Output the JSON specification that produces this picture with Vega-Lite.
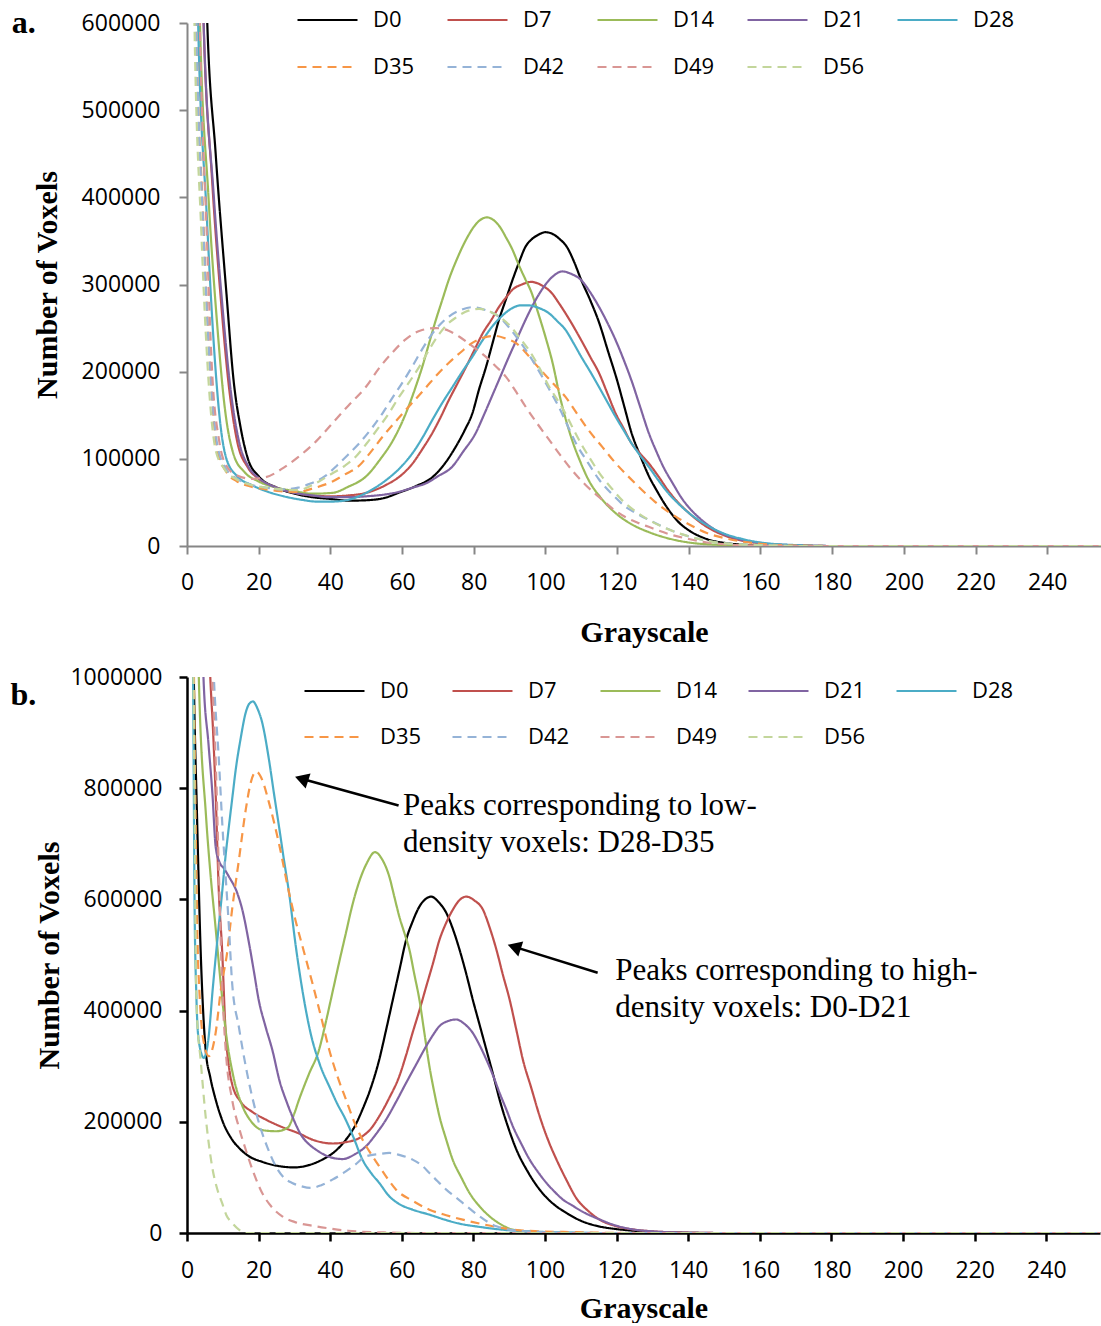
{
"$schema": "https://vega.github.io/schema/vega-lite/v6.json",
"padding": {"left": 10, "top": 5, "right": 0, "bottom": 0},
"spacing": 19,
"config": {
  "view": {"stroke": null},
  "axis": {"grid": false, "labelFont": "Open Sans", "labelFontSize": 23, "labelColor": "#000", "titleFont": "Liberation Serif", "titleFontWeight": "bold", "titleFontSize": 30, "titleColor": "#000", "tickSize": 8, "labelFlush": false, "labelOverlap": false},
  "legend": {"orient": "none", "direction": "horizontal", "columns": 5, "symbolType": "stroke", "symbolSize": 3600, "symbolStrokeWidth": 2.2, "clipHeight": 30, "labelOffset": 14, "labelFont": "Open Sans", "labelFontSize": 22, "labelColor": "#000", "padding": 0}
},
"resolve": {"scale": {"x": "independent", "y": "independent", "color": "independent", "strokeDash": "independent"}, "legend": {"color": "independent", "strokeDash": "independent"}},
"datasets": {
"a": [
{"s":"D0","g":0,"v":2500000},{"s":"D0","g":3,"v":1300000},{"s":"D0","g":5.5,"v":620000},{"s":"D0","g":8,"v":450000},{"s":"D0","g":11,"v":290000},{"s":"D0","g":13,"v":190000},{"s":"D0","g":15,"v":135000},{"s":"D0","g":17,"v":100000},{"s":"D0","g":20,"v":80000},{"s":"D0","g":25,"v":67000},{"s":"D0","g":30,"v":60000},{"s":"D0","g":35,"v":56000},{"s":"D0","g":40,"v":54000},{"s":"D0","g":45,"v":52000},{"s":"D0","g":50,"v":52500},{"s":"D0","g":55,"v":55000},{"s":"D0","g":59,"v":61000},{"s":"D0","g":64,"v":69000},{"s":"D0","g":68.5,"v":79000},{"s":"D0","g":72,"v":95000},{"s":"D0","g":75,"v":114000},{"s":"D0","g":77.5,"v":133000},{"s":"D0","g":79.6,"v":152000},{"s":"D0","g":81.5,"v":180000},{"s":"D0","g":83.4,"v":205000},{"s":"D0","g":85.2,"v":232000},{"s":"D0","g":87,"v":259000},{"s":"D0","g":88.9,"v":282000},{"s":"D0","g":90.8,"v":305000},{"s":"D0","g":92.6,"v":325000},{"s":"D0","g":94.4,"v":343000},{"s":"D0","g":96.2,"v":352000},{"s":"D0","g":98,"v":357000},{"s":"D0","g":100,"v":360000},{"s":"D0","g":102,"v":358000},{"s":"D0","g":104,"v":352000},{"s":"D0","g":106,"v":343000},{"s":"D0","g":108,"v":326000},{"s":"D0","g":110,"v":305000},{"s":"D0","g":112.5,"v":282000},{"s":"D0","g":115,"v":256000},{"s":"D0","g":117.5,"v":223000},{"s":"D0","g":120,"v":190000},{"s":"D0","g":122,"v":160000},{"s":"D0","g":124,"v":130000},{"s":"D0","g":126.5,"v":103000},{"s":"D0","g":129,"v":79000},{"s":"D0","g":131,"v":64000},{"s":"D0","g":133,"v":50000},{"s":"D0","g":135,"v":38000},{"s":"D0","g":137,"v":28000},{"s":"D0","g":140,"v":18000},{"s":"D0","g":145,"v":8000},{"s":"D0","g":150,"v":3500},{"s":"D0","g":155,"v":1500},{"s":"D0","g":160,"v":600},{"s":"D0","g":170,"v":100},{"s":"D0","g":180,"v":0},{"s":"D0","g":255,"v":0},
{"s":"D7","g":0,"v":2500000},{"s":"D7","g":3,"v":1100000},{"s":"D7","g":4.5,"v":620000},{"s":"D7","g":7,"v":420000},{"s":"D7","g":9.5,"v":280000},{"s":"D7","g":11.5,"v":190000},{"s":"D7","g":14,"v":120000},{"s":"D7","g":17,"v":90000},{"s":"D7","g":20,"v":77000},{"s":"D7","g":25,"v":67000},{"s":"D7","g":30,"v":61000},{"s":"D7","g":35,"v":58000},{"s":"D7","g":40,"v":57000},{"s":"D7","g":45,"v":58000},{"s":"D7","g":50,"v":61000},{"s":"D7","g":55.5,"v":70000},{"s":"D7","g":60,"v":82000},{"s":"D7","g":63,"v":95000},{"s":"D7","g":65.8,"v":112000},{"s":"D7","g":68.5,"v":130000},{"s":"D7","g":70.8,"v":148000},{"s":"D7","g":73,"v":167000},{"s":"D7","g":75.4,"v":186000},{"s":"D7","g":77.8,"v":205000},{"s":"D7","g":80.2,"v":225000},{"s":"D7","g":82.5,"v":244000},{"s":"D7","g":85,"v":260000},{"s":"D7","g":87,"v":274000},{"s":"D7","g":89,"v":285000},{"s":"D7","g":90.8,"v":294000},{"s":"D7","g":93.4,"v":300000},{"s":"D7","g":96,"v":303000},{"s":"D7","g":99,"v":299000},{"s":"D7","g":101.8,"v":290000},{"s":"D7","g":103.7,"v":279000},{"s":"D7","g":105.6,"v":267000},{"s":"D7","g":107.8,"v":252000},{"s":"D7","g":110,"v":236000},{"s":"D7","g":112.5,"v":217000},{"s":"D7","g":115,"v":198000},{"s":"D7","g":117.3,"v":175000},{"s":"D7","g":119.6,"v":152000},{"s":"D7","g":121.8,"v":135000},{"s":"D7","g":124,"v":118000},{"s":"D7","g":126.4,"v":106000},{"s":"D7","g":128.8,"v":95000},{"s":"D7","g":131.5,"v":80000},{"s":"D7","g":134,"v":65000},{"s":"D7","g":137,"v":50000},{"s":"D7","g":140,"v":38000},{"s":"D7","g":145,"v":22000},{"s":"D7","g":150,"v":12000},{"s":"D7","g":155,"v":6000},{"s":"D7","g":160,"v":3000},{"s":"D7","g":170,"v":500},{"s":"D7","g":180,"v":0},{"s":"D7","g":255,"v":0},
{"s":"D14","g":0,"v":2500000},{"s":"D14","g":2,"v":1200000},{"s":"D14","g":3.5,"v":620000},{"s":"D14","g":6,"v":400000},{"s":"D14","g":8.5,"v":250000},{"s":"D14","g":10.5,"v":160000},{"s":"D14","g":13,"v":105000},{"s":"D14","g":16,"v":85000},{"s":"D14","g":20,"v":74000},{"s":"D14","g":25,"v":67000},{"s":"D14","g":30,"v":63000},{"s":"D14","g":35,"v":60000},{"s":"D14","g":40.6,"v":61000},{"s":"D14","g":45,"v":68000},{"s":"D14","g":50,"v":80000},{"s":"D14","g":54,"v":100000},{"s":"D14","g":57.3,"v":120000},{"s":"D14","g":60,"v":142000},{"s":"D14","g":62,"v":162000},{"s":"D14","g":64,"v":185000},{"s":"D14","g":65.6,"v":205000},{"s":"D14","g":67.5,"v":232000},{"s":"D14","g":69.4,"v":259000},{"s":"D14","g":71.2,"v":282000},{"s":"D14","g":73,"v":305000},{"s":"D14","g":75.4,"v":330000},{"s":"D14","g":77.8,"v":351000},{"s":"D14","g":80,"v":366000},{"s":"D14","g":81.8,"v":374000},{"s":"D14","g":83.7,"v":377000},{"s":"D14","g":85.5,"v":374000},{"s":"D14","g":87.3,"v":366000},{"s":"D14","g":89,"v":354000},{"s":"D14","g":90.8,"v":340000},{"s":"D14","g":92.6,"v":322000},{"s":"D14","g":94.4,"v":306000},{"s":"D14","g":96,"v":292000},{"s":"D14","g":98,"v":267000},{"s":"D14","g":100,"v":240000},{"s":"D14","g":102,"v":210000},{"s":"D14","g":104,"v":172000},{"s":"D14","g":105.7,"v":145000},{"s":"D14","g":107.4,"v":122000},{"s":"D14","g":109.7,"v":97000},{"s":"D14","g":112,"v":76000},{"s":"D14","g":115.5,"v":55000},{"s":"D14","g":119.5,"v":38000},{"s":"D14","g":124,"v":25000},{"s":"D14","g":128.8,"v":16000},{"s":"D14","g":135,"v":8000},{"s":"D14","g":140,"v":4000},{"s":"D14","g":150,"v":1000},{"s":"D14","g":160,"v":0},{"s":"D14","g":255,"v":0},
{"s":"D21","g":0,"v":2500000},{"s":"D21","g":3,"v":1200000},{"s":"D21","g":4.5,"v":620000},{"s":"D21","g":7.5,"v":400000},{"s":"D21","g":10,"v":270000},{"s":"D21","g":12,"v":185000},{"s":"D21","g":14.5,"v":120000},{"s":"D21","g":17,"v":92000},{"s":"D21","g":20,"v":78000},{"s":"D21","g":25,"v":67000},{"s":"D21","g":30,"v":61000},{"s":"D21","g":35,"v":58000},{"s":"D21","g":40,"v":56000},{"s":"D21","g":45,"v":56000},{"s":"D21","g":50,"v":57000},{"s":"D21","g":55,"v":59000},{"s":"D21","g":59,"v":62000},{"s":"D21","g":63,"v":67000},{"s":"D21","g":66.7,"v":72000},{"s":"D21","g":70,"v":80000},{"s":"D21","g":74,"v":91000},{"s":"D21","g":77,"v":108000},{"s":"D21","g":80.6,"v":130000},{"s":"D21","g":82.8,"v":150000},{"s":"D21","g":85,"v":171000},{"s":"D21","g":87.4,"v":194000},{"s":"D21","g":89.8,"v":217000},{"s":"D21","g":92.1,"v":238000},{"s":"D21","g":94.4,"v":259000},{"s":"D21","g":96.7,"v":278000},{"s":"D21","g":99,"v":294000},{"s":"D21","g":102,"v":309000},{"s":"D21","g":104.7,"v":315000},{"s":"D21","g":107.3,"v":312000},{"s":"D21","g":110,"v":305000},{"s":"D21","g":112.5,"v":291000},{"s":"D21","g":115,"v":274000},{"s":"D21","g":117.3,"v":256000},{"s":"D21","g":119.6,"v":236000},{"s":"D21","g":121.8,"v":214000},{"s":"D21","g":124,"v":190000},{"s":"D21","g":126.4,"v":160000},{"s":"D21","g":128.8,"v":130000},{"s":"D21","g":131,"v":108000},{"s":"D21","g":133,"v":90000},{"s":"D21","g":135.5,"v":72000},{"s":"D21","g":138,"v":55000},{"s":"D21","g":140.5,"v":42000},{"s":"D21","g":143,"v":32000},{"s":"D21","g":148,"v":17000},{"s":"D21","g":153,"v":9000},{"s":"D21","g":160,"v":3500},{"s":"D21","g":170,"v":800},{"s":"D21","g":180,"v":0},{"s":"D21","g":255,"v":0},
{"s":"D28","g":0,"v":2500000},{"s":"D28","g":1.5,"v":1300000},{"s":"D28","g":3,"v":620000},{"s":"D28","g":5.5,"v":380000},{"s":"D28","g":7.5,"v":230000},{"s":"D28","g":9.3,"v":140000},{"s":"D28","g":11,"v":100000},{"s":"D28","g":14,"v":80000},{"s":"D28","g":18,"v":70000},{"s":"D28","g":22,"v":63000},{"s":"D28","g":27,"v":57000},{"s":"D28","g":32,"v":53000},{"s":"D28","g":36,"v":51000},{"s":"D28","g":40.6,"v":51000},{"s":"D28","g":45,"v":53000},{"s":"D28","g":50,"v":61000},{"s":"D28","g":53.3,"v":69000},{"s":"D28","g":56.6,"v":79000},{"s":"D28","g":60,"v":92000},{"s":"D28","g":63,"v":107000},{"s":"D28","g":65.8,"v":125000},{"s":"D28","g":68.5,"v":145000},{"s":"D28","g":71.2,"v":164000},{"s":"D28","g":74,"v":182000},{"s":"D28","g":76.8,"v":200000},{"s":"D28","g":79.6,"v":217000},{"s":"D28","g":82.3,"v":235000},{"s":"D28","g":85,"v":251000},{"s":"D28","g":87.9,"v":264000},{"s":"D28","g":90.8,"v":273000},{"s":"D28","g":93,"v":276000},{"s":"D28","g":95.4,"v":276000},{"s":"D28","g":98.2,"v":273000},{"s":"D28","g":101,"v":267000},{"s":"D28","g":103.3,"v":258000},{"s":"D28","g":105.6,"v":248000},{"s":"D28","g":107.8,"v":233000},{"s":"D28","g":110,"v":217000},{"s":"D28","g":112.5,"v":200000},{"s":"D28","g":115,"v":182000},{"s":"D28","g":117.3,"v":165000},{"s":"D28","g":119.6,"v":148000},{"s":"D28","g":121.8,"v":133000},{"s":"D28","g":124,"v":118000},{"s":"D28","g":126.4,"v":104000},{"s":"D28","g":128.8,"v":91000},{"s":"D28","g":131.4,"v":76000},{"s":"D28","g":134,"v":62000},{"s":"D28","g":137,"v":49000},{"s":"D28","g":140,"v":38000},{"s":"D28","g":145,"v":24000},{"s":"D28","g":150,"v":14000},{"s":"D28","g":155,"v":8000},{"s":"D28","g":160,"v":4000},{"s":"D28","g":170,"v":1000},{"s":"D28","g":180,"v":0},{"s":"D28","g":255,"v":0},
{"s":"D35","g":0,"v":2500000},{"s":"D35","g":1,"v":1300000},{"s":"D35","g":2.5,"v":620000},{"s":"D35","g":4.5,"v":380000},{"s":"D35","g":6.5,"v":200000},{"s":"D35","g":8.5,"v":110000},{"s":"D35","g":11,"v":85000},{"s":"D35","g":14,"v":74000},{"s":"D35","g":18,"v":68000},{"s":"D35","g":22,"v":65000},{"s":"D35","g":26,"v":63000},{"s":"D35","g":31,"v":62000},{"s":"D35","g":35,"v":66000},{"s":"D35","g":40.6,"v":74000},{"s":"D35","g":44,"v":82000},{"s":"D35","g":48,"v":92000},{"s":"D35","g":51.3,"v":108000},{"s":"D35","g":54.5,"v":125000},{"s":"D35","g":57.8,"v":141000},{"s":"D35","g":61,"v":156000},{"s":"D35","g":63.9,"v":169000},{"s":"D35","g":66.7,"v":182000},{"s":"D35","g":69.9,"v":197000},{"s":"D35","g":73,"v":210000},{"s":"D35","g":76.3,"v":222000},{"s":"D35","g":79.6,"v":233000},{"s":"D35","g":82.8,"v":239000},{"s":"D35","g":86,"v":241000},{"s":"D35","g":88.9,"v":238000},{"s":"D35","g":91.7,"v":233000},{"s":"D35","g":94.9,"v":220000},{"s":"D35","g":98,"v":205000},{"s":"D35","g":101.8,"v":188000},{"s":"D35","g":105.6,"v":171000},{"s":"D35","g":108.8,"v":152000},{"s":"D35","g":112,"v":133000},{"s":"D35","g":115.8,"v":114000},{"s":"D35","g":119.6,"v":95000},{"s":"D35","g":123.3,"v":79000},{"s":"D35","g":127,"v":64000},{"s":"D35","g":130.5,"v":51000},{"s":"D35","g":134,"v":40000},{"s":"D35","g":137,"v":32000},{"s":"D35","g":140,"v":25000},{"s":"D35","g":145,"v":15000},{"s":"D35","g":150,"v":9000},{"s":"D35","g":155,"v":5000},{"s":"D35","g":160,"v":2500},{"s":"D35","g":170,"v":500},{"s":"D35","g":180,"v":0},{"s":"D35","g":255,"v":0},
{"s":"D42","g":0,"v":2500000},{"s":"D42","g":1,"v":1300000},{"s":"D42","g":2.5,"v":620000},{"s":"D42","g":4.5,"v":370000},{"s":"D42","g":6.5,"v":200000},{"s":"D42","g":8.5,"v":115000},{"s":"D42","g":11,"v":88000},{"s":"D42","g":14,"v":77000},{"s":"D42","g":18,"v":70000},{"s":"D42","g":22,"v":67000},{"s":"D42","g":26,"v":65000},{"s":"D42","g":31,"v":67000},{"s":"D42","g":34,"v":71000},{"s":"D42","g":38.8,"v":81000},{"s":"D42","g":42,"v":93000},{"s":"D42","g":45,"v":105000},{"s":"D42","g":48.3,"v":119000},{"s":"D42","g":51.7,"v":136000},{"s":"D42","g":54.5,"v":152000},{"s":"D42","g":57.3,"v":170000},{"s":"D42","g":60.2,"v":188000},{"s":"D42","g":63,"v":207000},{"s":"D42","g":65.8,"v":227000},{"s":"D42","g":68.5,"v":244000},{"s":"D42","g":70.8,"v":255000},{"s":"D42","g":73,"v":263000},{"s":"D42","g":76.5,"v":271000},{"s":"D42","g":79.6,"v":274000},{"s":"D42","g":83,"v":271000},{"s":"D42","g":87,"v":263000},{"s":"D42","g":89.8,"v":251000},{"s":"D42","g":92.6,"v":236000},{"s":"D42","g":95.3,"v":220000},{"s":"D42","g":98,"v":202000},{"s":"D42","g":100.9,"v":181000},{"s":"D42","g":103.8,"v":159000},{"s":"D42","g":106.2,"v":138000},{"s":"D42","g":108.5,"v":118000},{"s":"D42","g":111.8,"v":96000},{"s":"D42","g":115,"v":76000},{"s":"D42","g":118.7,"v":59000},{"s":"D42","g":122.4,"v":45000},{"s":"D42","g":125.6,"v":37000},{"s":"D42","g":128.8,"v":30000},{"s":"D42","g":135,"v":18000},{"s":"D42","g":140,"v":11000},{"s":"D42","g":145,"v":6000},{"s":"D42","g":150,"v":3000},{"s":"D42","g":160,"v":1000},{"s":"D42","g":170,"v":0},{"s":"D42","g":255,"v":0},
{"s":"D49","g":0,"v":2500000},{"s":"D49","g":1.5,"v":1300000},{"s":"D49","g":3.5,"v":620000},{"s":"D49","g":5.5,"v":360000},{"s":"D49","g":7,"v":200000},{"s":"D49","g":9,"v":120000},{"s":"D49","g":11,"v":92000},{"s":"D49","g":14,"v":81000},{"s":"D49","g":18,"v":77000},{"s":"D49","g":22,"v":79000},{"s":"D49","g":27,"v":90000},{"s":"D49","g":31,"v":102000},{"s":"D49","g":36,"v":120000},{"s":"D49","g":40.6,"v":141000},{"s":"D49","g":45,"v":161000},{"s":"D49","g":50,"v":183000},{"s":"D49","g":53.6,"v":204000},{"s":"D49","g":57.3,"v":222000},{"s":"D49","g":61,"v":237000},{"s":"D49","g":65,"v":247000},{"s":"D49","g":69.5,"v":250000},{"s":"D49","g":73,"v":247000},{"s":"D49","g":76,"v":240000},{"s":"D49","g":79.7,"v":229000},{"s":"D49","g":83.4,"v":217000},{"s":"D49","g":86.2,"v":206000},{"s":"D49","g":89,"v":194000},{"s":"D49","g":91.8,"v":177000},{"s":"D49","g":94.6,"v":159000},{"s":"D49","g":97.8,"v":140000},{"s":"D49","g":101,"v":122000},{"s":"D49","g":104.2,"v":104000},{"s":"D49","g":107.4,"v":87000},{"s":"D49","g":111.2,"v":70000},{"s":"D49","g":115,"v":56000},{"s":"D49","g":118.7,"v":43000},{"s":"D49","g":122.4,"v":33000},{"s":"D49","g":125.6,"v":27000},{"s":"D49","g":128.8,"v":22000},{"s":"D49","g":135,"v":13000},{"s":"D49","g":140,"v":8000},{"s":"D49","g":145,"v":4000},{"s":"D49","g":150,"v":2000},{"s":"D49","g":160,"v":500},{"s":"D49","g":170,"v":0},{"s":"D49","g":255,"v":0},
{"s":"D56","g":0,"v":2500000},{"s":"D56","g":0.8,"v":1300000},{"s":"D56","g":2,"v":620000},{"s":"D56","g":4,"v":360000},{"s":"D56","g":6,"v":190000},{"s":"D56","g":8,"v":110000},{"s":"D56","g":10.5,"v":88000},{"s":"D56","g":14,"v":76000},{"s":"D56","g":18,"v":70000},{"s":"D56","g":22,"v":67000},{"s":"D56","g":26,"v":65000},{"s":"D56","g":31,"v":64000},{"s":"D56","g":35,"v":70000},{"s":"D56","g":40,"v":82000},{"s":"D56","g":44,"v":92000},{"s":"D56","g":47,"v":102000},{"s":"D56","g":50,"v":117000},{"s":"D56","g":53.5,"v":136000},{"s":"D56","g":56.3,"v":152000},{"s":"D56","g":59,"v":170000},{"s":"D56","g":62,"v":188000},{"s":"D56","g":65,"v":207000},{"s":"D56","g":67.8,"v":227000},{"s":"D56","g":70.5,"v":244000},{"s":"D56","g":72.8,"v":255000},{"s":"D56","g":75,"v":262000},{"s":"D56","g":78.5,"v":270000},{"s":"D56","g":81.5,"v":272000},{"s":"D56","g":85,"v":268000},{"s":"D56","g":87.5,"v":262000},{"s":"D56","g":90,"v":253000},{"s":"D56","g":93,"v":238000},{"s":"D56","g":96,"v":221000},{"s":"D56","g":98.5,"v":203000},{"s":"D56","g":101,"v":183000},{"s":"D56","g":103.3,"v":168000},{"s":"D56","g":105.6,"v":152000},{"s":"D56","g":107.8,"v":134000},{"s":"D56","g":110,"v":117000},{"s":"D56","g":112.5,"v":100000},{"s":"D56","g":115,"v":84000},{"s":"D56","g":118.5,"v":66000},{"s":"D56","g":122,"v":50000},{"s":"D56","g":125.4,"v":39000},{"s":"D56","g":128.8,"v":30000},{"s":"D56","g":135,"v":18000},{"s":"D56","g":140,"v":11000},{"s":"D56","g":145,"v":6000},{"s":"D56","g":150,"v":3000},{"s":"D56","g":160,"v":1000},{"s":"D56","g":170,"v":0},{"s":"D56","g":255,"v":0}
],
"b": [
{"s":"D0","g":0,"v":2500000},{"s":"D0","g":1.3,"v":1300000},{"s":"D0","g":1.9,"v":1000000},{"s":"D0","g":2.8,"v":750000},{"s":"D0","g":3.8,"v":510000},{"s":"D0","g":4.5,"v":400000},{"s":"D0","g":5.2,"v":330000},{"s":"D0","g":6.5,"v":280000},{"s":"D0","g":8,"v":240000},{"s":"D0","g":10,"v":200000},{"s":"D0","g":12.6,"v":168000},{"s":"D0","g":15,"v":150000},{"s":"D0","g":17.3,"v":138000},{"s":"D0","g":21,"v":128000},{"s":"D0","g":26,"v":120000},{"s":"D0","g":30,"v":118000},{"s":"D0","g":34,"v":122000},{"s":"D0","g":37.8,"v":132000},{"s":"D0","g":41,"v":145000},{"s":"D0","g":44.4,"v":168000},{"s":"D0","g":46.7,"v":190000},{"s":"D0","g":49,"v":222000},{"s":"D0","g":51.4,"v":262000},{"s":"D0","g":53.7,"v":312000},{"s":"D0","g":55.6,"v":365000},{"s":"D0","g":57.5,"v":420000},{"s":"D0","g":59.4,"v":475000},{"s":"D0","g":61.2,"v":527000},{"s":"D0","g":63,"v":560000},{"s":"D0","g":64.9,"v":587000},{"s":"D0","g":66.5,"v":600000},{"s":"D0","g":68.2,"v":605000},{"s":"D0","g":70.3,"v":595000},{"s":"D0","g":72.4,"v":576000},{"s":"D0","g":74.3,"v":546000},{"s":"D0","g":76.1,"v":510000},{"s":"D0","g":78,"v":466000},{"s":"D0","g":79.8,"v":420000},{"s":"D0","g":81.7,"v":375000},{"s":"D0","g":83.6,"v":330000},{"s":"D0","g":85.5,"v":285000},{"s":"D0","g":87.3,"v":240000},{"s":"D0","g":89.6,"v":192000},{"s":"D0","g":92,"v":150000},{"s":"D0","g":95.2,"v":110000},{"s":"D0","g":98.5,"v":78000},{"s":"D0","g":102,"v":54000},{"s":"D0","g":106,"v":36000},{"s":"D0","g":110,"v":22000},{"s":"D0","g":115,"v":12000},{"s":"D0","g":120,"v":7000},{"s":"D0","g":125,"v":4000},{"s":"D0","g":130,"v":2000},{"s":"D0","g":135,"v":1000},{"s":"D0","g":145,"v":0},{"s":"D0","g":255,"v":0},
{"s":"D7","g":0,"v":3500000},{"s":"D7","g":3,"v":2000000},{"s":"D7","g":5,"v":1300000},{"s":"D7","g":6.5,"v":1000000},{"s":"D7","g":7.3,"v":900000},{"s":"D7","g":8,"v":790000},{"s":"D7","g":8.9,"v":612000},{"s":"D7","g":9.8,"v":510000},{"s":"D7","g":10.8,"v":360000},{"s":"D7","g":11.7,"v":300000},{"s":"D7","g":12.6,"v":268000},{"s":"D7","g":15,"v":236000},{"s":"D7","g":18.2,"v":218000},{"s":"D7","g":22,"v":204000},{"s":"D7","g":26,"v":192000},{"s":"D7","g":31.3,"v":179000},{"s":"D7","g":35,"v":168000},{"s":"D7","g":40.6,"v":161000},{"s":"D7","g":44,"v":163000},{"s":"D7","g":49,"v":174000},{"s":"D7","g":51.4,"v":188000},{"s":"D7","g":53.7,"v":210000},{"s":"D7","g":56.5,"v":243000},{"s":"D7","g":59.3,"v":282000},{"s":"D7","g":61.2,"v":320000},{"s":"D7","g":63,"v":360000},{"s":"D7","g":64.9,"v":400000},{"s":"D7","g":66.8,"v":443000},{"s":"D7","g":68.7,"v":485000},{"s":"D7","g":70.5,"v":527000},{"s":"D7","g":72.4,"v":558000},{"s":"D7","g":74.2,"v":581000},{"s":"D7","g":76,"v":598000},{"s":"D7","g":78,"v":605000},{"s":"D7","g":80.3,"v":598000},{"s":"D7","g":82.7,"v":581000},{"s":"D7","g":84.5,"v":550000},{"s":"D7","g":86.4,"v":510000},{"s":"D7","g":88.2,"v":465000},{"s":"D7","g":90.1,"v":420000},{"s":"D7","g":92,"v":365000},{"s":"D7","g":93.8,"v":312000},{"s":"D7","g":96.2,"v":260000},{"s":"D7","g":98.5,"v":210000},{"s":"D7","g":100.8,"v":168000},{"s":"D7","g":103.2,"v":132000},{"s":"D7","g":106,"v":95000},{"s":"D7","g":108.8,"v":62000},{"s":"D7","g":112,"v":40000},{"s":"D7","g":115,"v":25000},{"s":"D7","g":120,"v":12000},{"s":"D7","g":125,"v":6000},{"s":"D7","g":130,"v":3000},{"s":"D7","g":140,"v":500},{"s":"D7","g":150,"v":0},{"s":"D7","g":255,"v":0},
{"s":"D14","g":0,"v":3000000},{"s":"D14","g":2,"v":1500000},{"s":"D14","g":3.3,"v":1000000},{"s":"D14","g":5.3,"v":751000},{"s":"D14","g":6.5,"v":650000},{"s":"D14","g":7.9,"v":555000},{"s":"D14","g":9.4,"v":450000},{"s":"D14","g":10.9,"v":359000},{"s":"D14","g":13,"v":280000},{"s":"D14","g":15.5,"v":228000},{"s":"D14","g":18,"v":200000},{"s":"D14","g":21.1,"v":185000},{"s":"D14","g":25,"v":183000},{"s":"D14","g":28.2,"v":190000},{"s":"D14","g":29.8,"v":212000},{"s":"D14","g":31.3,"v":240000},{"s":"D14","g":34,"v":285000},{"s":"D14","g":36.9,"v":330000},{"s":"D14","g":38.8,"v":380000},{"s":"D14","g":40.6,"v":432000},{"s":"D14","g":42.5,"v":487000},{"s":"D14","g":44.4,"v":540000},{"s":"D14","g":46.2,"v":590000},{"s":"D14","g":48,"v":630000},{"s":"D14","g":50.2,"v":665000},{"s":"D14","g":52.5,"v":685000},{"s":"D14","g":54.5,"v":672000},{"s":"D14","g":56.5,"v":641000},{"s":"D14","g":57.9,"v":605000},{"s":"D14","g":59.3,"v":569000},{"s":"D14","g":60.7,"v":540000},{"s":"D14","g":62.1,"v":510000},{"s":"D14","g":63.5,"v":465000},{"s":"D14","g":64.9,"v":420000},{"s":"D14","g":66.3,"v":360000},{"s":"D14","g":67.7,"v":300000},{"s":"D14","g":69.1,"v":252000},{"s":"D14","g":70.5,"v":210000},{"s":"D14","g":72.4,"v":168000},{"s":"D14","g":74.2,"v":132000},{"s":"D14","g":76.6,"v":100000},{"s":"D14","g":78.9,"v":72000},{"s":"D14","g":81.7,"v":48000},{"s":"D14","g":84.5,"v":30000},{"s":"D14","g":87.8,"v":15000},{"s":"D14","g":91,"v":6000},{"s":"D14","g":100,"v":1000},{"s":"D14","g":110,"v":0},{"s":"D14","g":255,"v":0},
{"s":"D21","g":0,"v":3000000},{"s":"D21","g":2.5,"v":1600000},{"s":"D21","g":3.5,"v":1300000},{"s":"D21","g":4.6,"v":1000000},{"s":"D21","g":6,"v":880000},{"s":"D21","g":7.1,"v":790000},{"s":"D21","g":8,"v":695000},{"s":"D21","g":9,"v":668000},{"s":"D21","g":10.4,"v":655000},{"s":"D21","g":11.7,"v":641000},{"s":"D21","g":14,"v":612000},{"s":"D21","g":15.5,"v":580000},{"s":"D21","g":17.3,"v":522000},{"s":"D21","g":18.7,"v":470000},{"s":"D21","g":20,"v":420000},{"s":"D21","g":21.9,"v":372000},{"s":"D21","g":23.8,"v":330000},{"s":"D21","g":26,"v":270000},{"s":"D21","g":27.7,"v":238000},{"s":"D21","g":29.4,"v":210000},{"s":"D21","g":32,"v":175000},{"s":"D21","g":34,"v":160000},{"s":"D21","g":36,"v":150000},{"s":"D21","g":39.7,"v":137000},{"s":"D21","g":43.4,"v":133000},{"s":"D21","g":47,"v":142000},{"s":"D21","g":50,"v":156000},{"s":"D21","g":52.8,"v":178000},{"s":"D21","g":55.6,"v":204000},{"s":"D21","g":58.4,"v":236000},{"s":"D21","g":61.2,"v":270000},{"s":"D21","g":64,"v":303000},{"s":"D21","g":66.8,"v":336000},{"s":"D21","g":68.7,"v":356000},{"s":"D21","g":70.5,"v":372000},{"s":"D21","g":72.8,"v":381000},{"s":"D21","g":75.2,"v":384000},{"s":"D21","g":77.5,"v":376000},{"s":"D21","g":79.8,"v":360000},{"s":"D21","g":81.7,"v":338000},{"s":"D21","g":83.6,"v":312000},{"s":"D21","g":85.5,"v":283000},{"s":"D21","g":87.3,"v":252000},{"s":"D21","g":89.2,"v":222000},{"s":"D21","g":91,"v":192000},{"s":"D21","g":93.4,"v":160000},{"s":"D21","g":95.7,"v":132000},{"s":"D21","g":98,"v":110000},{"s":"D21","g":100.4,"v":90000},{"s":"D21","g":102.7,"v":74000},{"s":"D21","g":105,"v":60000},{"s":"D21","g":107.5,"v":50000},{"s":"D21","g":110,"v":40000},{"s":"D21","g":115,"v":25000},{"s":"D21","g":120,"v":13000},{"s":"D21","g":125,"v":6000},{"s":"D21","g":130,"v":3000},{"s":"D21","g":140,"v":500},{"s":"D21","g":150,"v":0},{"s":"D21","g":255,"v":0},
{"s":"D28","g":0,"v":3000000},{"s":"D28","g":1.2,"v":1500000},{"s":"D28","g":1.7,"v":1000000},{"s":"D28","g":1.9,"v":800000},{"s":"D28","g":2.1,"v":600000},{"s":"D28","g":2.6,"v":430000},{"s":"D28","g":3.3,"v":345000},{"s":"D28","g":4.7,"v":315000},{"s":"D28","g":6,"v":350000},{"s":"D28","g":7.2,"v":440000},{"s":"D28","g":8.4,"v":522000},{"s":"D28","g":9.8,"v":612000},{"s":"D28","g":10.8,"v":680000},{"s":"D28","g":11.7,"v":731000},{"s":"D28","g":12.7,"v":785000},{"s":"D28","g":13.6,"v":833000},{"s":"D28","g":15,"v":890000},{"s":"D28","g":16.4,"v":936000},{"s":"D28","g":17.4,"v":952000},{"s":"D28","g":18.4,"v":956000},{"s":"D28","g":19.7,"v":943000},{"s":"D28","g":21,"v":918000},{"s":"D28","g":22.9,"v":851000},{"s":"D28","g":24.3,"v":790000},{"s":"D28","g":25.7,"v":731000},{"s":"D28","g":27.1,"v":670000},{"s":"D28","g":28.5,"v":612000},{"s":"D28","g":30.4,"v":515000},{"s":"D28","g":32.4,"v":430000},{"s":"D28","g":34.5,"v":360000},{"s":"D28","g":37,"v":305000},{"s":"D28","g":40,"v":260000},{"s":"D28","g":42,"v":232000},{"s":"D28","g":44,"v":208000},{"s":"D28","g":46.5,"v":172000},{"s":"D28","g":49,"v":132000},{"s":"D28","g":51.4,"v":108000},{"s":"D28","g":53.7,"v":90000},{"s":"D28","g":56.5,"v":66000},{"s":"D28","g":59.3,"v":52000},{"s":"D28","g":63,"v":42000},{"s":"D28","g":67.7,"v":33000},{"s":"D28","g":72,"v":24000},{"s":"D28","g":76,"v":17000},{"s":"D28","g":81.7,"v":11000},{"s":"D28","g":88,"v":6000},{"s":"D28","g":95,"v":3000},{"s":"D28","g":105,"v":1000},{"s":"D28","g":115,"v":0},{"s":"D28","g":255,"v":0},
{"s":"D35","g":0,"v":3000000},{"s":"D35","g":1.3,"v":1500000},{"s":"D35","g":1.8,"v":1100000},{"s":"D35","g":2.5,"v":700000},{"s":"D35","g":3,"v":510000},{"s":"D35","g":3.5,"v":430000},{"s":"D35","g":4.5,"v":350000},{"s":"D35","g":6.1,"v":318000},{"s":"D35","g":8,"v":360000},{"s":"D35","g":9.5,"v":440000},{"s":"D35","g":11.2,"v":504000},{"s":"D35","g":12.6,"v":582000},{"s":"D35","g":14.5,"v":671000},{"s":"D35","g":16.4,"v":761000},{"s":"D35","g":17.8,"v":810000},{"s":"D35","g":19.3,"v":830000},{"s":"D35","g":21,"v":815000},{"s":"D35","g":22.9,"v":774000},{"s":"D35","g":25.7,"v":700000},{"s":"D35","g":28.5,"v":612000},{"s":"D35","g":30.4,"v":560000},{"s":"D35","g":32.7,"v":505000},{"s":"D35","g":35,"v":450000},{"s":"D35","g":37.4,"v":390000},{"s":"D35","g":39.7,"v":330000},{"s":"D35","g":42,"v":282000},{"s":"D35","g":44.4,"v":240000},{"s":"D35","g":46.7,"v":200000},{"s":"D35","g":49,"v":168000},{"s":"D35","g":51.4,"v":142000},{"s":"D35","g":53.7,"v":120000},{"s":"D35","g":56,"v":98000},{"s":"D35","g":58.4,"v":78000},{"s":"D35","g":63,"v":58000},{"s":"D35","g":67.7,"v":42000},{"s":"D35","g":72.4,"v":32000},{"s":"D35","g":77,"v":24000},{"s":"D35","g":84,"v":14000},{"s":"D35","g":91,"v":6000},{"s":"D35","g":98,"v":3000},{"s":"D35","g":105,"v":2000},{"s":"D35","g":115,"v":500},{"s":"D35","g":125,"v":0},{"s":"D35","g":255,"v":0},
{"s":"D42","g":0,"v":3500000},{"s":"D42","g":4,"v":2000000},{"s":"D42","g":6,"v":1300000},{"s":"D42","g":7.5,"v":1000000},{"s":"D42","g":8.9,"v":851000},{"s":"D42","g":9.9,"v":731000},{"s":"D42","g":10.8,"v":641000},{"s":"D42","g":11.7,"v":551000},{"s":"D42","g":12.6,"v":450000},{"s":"D42","g":14.5,"v":370000},{"s":"D42","g":16.4,"v":300000},{"s":"D42","g":18.2,"v":245000},{"s":"D42","g":20.1,"v":198000},{"s":"D42","g":22.4,"v":155000},{"s":"D42","g":24.8,"v":120000},{"s":"D42","g":27,"v":100000},{"s":"D42","g":29.4,"v":90000},{"s":"D42","g":32,"v":84000},{"s":"D42","g":34.6,"v":81000},{"s":"D42","g":37.5,"v":86000},{"s":"D42","g":40.6,"v":96000},{"s":"D42","g":43.7,"v":108000},{"s":"D42","g":47,"v":123000},{"s":"D42","g":50,"v":138000},{"s":"D42","g":53.7,"v":142000},{"s":"D42","g":56.5,"v":144000},{"s":"D42","g":59.5,"v":140000},{"s":"D42","g":63,"v":132000},{"s":"D42","g":65.5,"v":122000},{"s":"D42","g":67.7,"v":108000},{"s":"D42","g":70,"v":93000},{"s":"D42","g":72.4,"v":78000},{"s":"D42","g":74.7,"v":66000},{"s":"D42","g":77,"v":54000},{"s":"D42","g":79.3,"v":42000},{"s":"D42","g":81.7,"v":30000},{"s":"D42","g":84,"v":20000},{"s":"D42","g":86.4,"v":12000},{"s":"D42","g":90,"v":6000},{"s":"D42","g":95,"v":3000},{"s":"D42","g":105,"v":500},{"s":"D42","g":115,"v":0},{"s":"D42","g":255,"v":0},
{"s":"D49","g":0,"v":3500000},{"s":"D49","g":3.5,"v":2000000},{"s":"D49","g":5.5,"v":1300000},{"s":"D49","g":7,"v":1000000},{"s":"D49","g":8,"v":851000},{"s":"D49","g":8.9,"v":650000},{"s":"D49","g":9.8,"v":450000},{"s":"D49","g":10.8,"v":330000},{"s":"D49","g":12.6,"v":240000},{"s":"D49","g":14.5,"v":190000},{"s":"D49","g":16.4,"v":150000},{"s":"D49","g":18.5,"v":110000},{"s":"D49","g":21,"v":72000},{"s":"D49","g":23.5,"v":48000},{"s":"D49","g":26.6,"v":30000},{"s":"D49","g":30,"v":20000},{"s":"D49","g":36,"v":12000},{"s":"D49","g":40,"v":8000},{"s":"D49","g":45,"v":4000},{"s":"D49","g":55,"v":1000},{"s":"D49","g":65,"v":0},{"s":"D49","g":255,"v":0},
{"s":"D56","g":0,"v":3000000},{"s":"D56","g":1,"v":1500000},{"s":"D56","g":1.8,"v":1000000},{"s":"D56","g":2.2,"v":700000},{"s":"D56","g":2.4,"v":510000},{"s":"D56","g":2.8,"v":390000},{"s":"D56","g":3.8,"v":312000},{"s":"D56","g":5.2,"v":210000},{"s":"D56","g":6.1,"v":160000},{"s":"D56","g":7,"v":120000},{"s":"D56","g":8.4,"v":80000},{"s":"D56","g":9.8,"v":54000},{"s":"D56","g":11,"v":32000},{"s":"D56","g":12.6,"v":18000},{"s":"D56","g":14.5,"v":6000},{"s":"D56","g":16.4,"v":0},{"s":"D56","g":255,"v":0}
]
},
"vconcat": [
{
  "width": 914, "height": 523,
  "layer": [
    {
      "data": {"name": "a"},
      "mark": {"type": "line", "clip": true, "strokeWidth": 2.2, "interpolate": "monotone"},
      "encoding": {
        "x": {"field": "g", "type": "quantitative", "scale": {"domain": [0, 255], "nice": false, "zero": false}, "axis": {"values": [0,20,40,60,80,100,120,140,160,180,200,220,240], "title": "Grayscale", "domainColor": "#868686", "tickColor": "#868686", "domainWidth": 2, "tickWidth": 2, "labelPadding": 17, "titlePadding": 23}},
        "y": {"field": "v", "type": "quantitative", "scale": {"domain": [0, 600000], "nice": false}, "axis": {"values": [0,100000,200000,300000,400000,500000,600000], "format": "d", "title": "Number of Voxels", "domainColor": "#868686", "tickColor": "#868686", "domainWidth": 2, "tickWidth": 2, "labelPadding": 19, "titlePadding": 19}},
        "color": {"field": "s", "type": "nominal", "scale": {"domain": ["D0","D7","D14","D21","D28","D35","D42","D49","D56"], "range": ["#000000","#C0504D","#9BBB59","#8064A2","#4BACC6","#F79646","#95B3D7","#D99694","#C3D69B"]}, "legend": {"title": null, "legendX": 109, "legendY": -18, "rowPadding": 17, "columnPadding": 31}},
        "strokeDash": {"field": "s", "type": "nominal", "scale": {"domain": ["D0","D7","D14","D21","D28","D35","D42","D49","D56"], "range": [[1,0],[1,0],[1,0],[1,0],[1,0],[9,6],[9,6],[9,6],[9,6]]}, "legend": {"title": null, "legendX": 109, "legendY": -18, "rowPadding": 17, "columnPadding": 31}}
      }
    },
    {
      "data": {"values": [{"g": -48.9, "v": 588200, "t": "a."}]},
      "mark": {"type": "text", "font": "Liberation Serif", "fontWeight": "bold", "fontSize": 32, "align": "left", "baseline": "alphabetic", "color": "#000"},
      "encoding": {"x": {"field": "g", "type": "quantitative"}, "y": {"field": "v", "type": "quantitative"}, "text": {"field": "t"}}
    }
  ]
},
{
  "width": 913, "height": 556,
  "layer": [
    {
      "data": {"name": "b"},
      "mark": {"type": "line", "clip": true, "strokeWidth": 2.2, "interpolate": "monotone"},
      "encoding": {
        "x": {"field": "g", "type": "quantitative", "scale": {"domain": [0, 255], "nice": false, "zero": false}, "axis": {"values": [0,20,40,60,80,100,120,140,160,180,200,220,240], "title": "Grayscale", "domainColor": "#000", "tickColor": "#000", "domainWidth": 2.5, "tickWidth": 2.5, "labelPadding": 18, "titlePadding": 11}},
        "y": {"field": "v", "type": "quantitative", "scale": {"domain": [0, 1000000], "nice": false}, "axis": {"values": [0,200000,400000,600000,800000,1000000], "format": "d", "title": "Number of Voxels", "domainColor": "#000", "tickColor": "#000", "domainWidth": 2.5, "tickWidth": 2.5, "labelPadding": 17, "titlePadding": 5}},
        "color": {"field": "s", "type": "nominal", "scale": {"domain": ["D0","D7","D14","D21","D28","D35","D42","D49","D56"], "range": ["#000000","#C0504D","#9BBB59","#8064A2","#4BACC6","#F79646","#95B3D7","#D99694","#C3D69B"]}, "legend": {"title": null, "legendX": 116, "legendY": -1, "rowPadding": 16, "columnPadding": 29}},
        "strokeDash": {"field": "s", "type": "nominal", "scale": {"domain": ["D0","D7","D14","D21","D28","D35","D42","D49","D56"], "range": [[1,0],[1,0],[1,0],[1,0],[1,0],[9,6],[9,6],[9,6],[9,6]]}, "legend": {"title": null, "legendX": 116, "legendY": -1, "rowPadding": 16, "columnPadding": 29}}
      }
    },
    {
      "data": {"values": [{"g": -49.3, "v": 950200, "t": "b."}]},
      "mark": {"type": "text", "font": "Liberation Serif", "fontWeight": "bold", "fontSize": 32, "align": "left", "baseline": "alphabetic", "color": "#000"},
      "encoding": {"x": {"field": "g", "type": "quantitative"}, "y": {"field": "v", "type": "quantitative"}, "text": {"field": "t"}}
    },
    {
      "data": {"values": [
        {"g": 60.3, "v": 752300, "t": "Peaks corresponding to low-"},
        {"g": 60.3, "v": 684500, "t": "density voxels: D28-D35"},
        {"g": 119.6, "v": 455600, "t": "Peaks corresponding to high-"},
        {"g": 119.6, "v": 389000, "t": "density voxels: D0-D21"}
      ]},
      "mark": {"type": "text", "font": "Liberation Serif", "fontSize": 31, "align": "left", "baseline": "alphabetic", "color": "#000"},
      "encoding": {"x": {"field": "g", "type": "quantitative"}, "y": {"field": "v", "type": "quantitative"}, "text": {"field": "t"}}
    },
    {
      "data": {"values": [
        {"g": 59.1, "v": 768800, "g2": 31.5, "v2": 818000},
        {"g": 114.7, "v": 468100, "g2": 90.8, "v2": 516000}
      ]},
      "mark": {"type": "rule", "color": "#000", "strokeWidth": 2.5},
      "encoding": {"x": {"field": "g", "type": "quantitative"}, "y": {"field": "v", "type": "quantitative"}, "x2": {"field": "g2"}, "y2": {"field": "v2"}}
    },
    {
      "data": {"values": [
        {"g": 32.0, "v": 816700},
        {"g": 91.4, "v": 514600}
      ]},
      "mark": {"type": "point", "shape": "triangle-up", "filled": true, "color": "#000", "opacity": 1, "size": 250, "angle": 288},
      "encoding": {"x": {"field": "g", "type": "quantitative"}, "y": {"field": "v", "type": "quantitative"}}
    }
  ]
}
]
}
